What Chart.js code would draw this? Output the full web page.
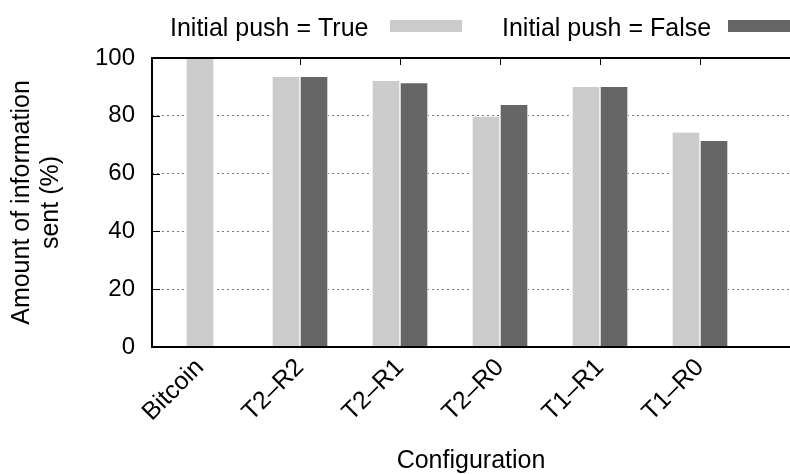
<!DOCTYPE html>
<html>
<head>
<meta charset="utf-8">
<script src="https://cdn.jsdelivr.net/npm/chart.js@4.4.1/dist/chart.umd.min.js"></script>
<style>
    body { margin: 0; background: #fff; }
    #wrap { width: 790px; height: 474px; position: relative; }
</style>
</head>
<body>
<div id="wrap"><canvas id="push-chart"></canvas></div>
<script>
// data
const categories = ['Bitcoin', 'T2–R2', 'T2–R1', 'T2–R0', 'T1–R1', 'T1–R0'];
const pushTrue = [100, 93.4, 92.0, 79.7, 90.0, 74.2];
const pushFalse = [null, 93.4, 91.3, 83.7, 90.0, 71.3];
const yTicks = [0, 20, 40, 60, 80, 100];

const FONT = "'Liberation Sans', Arial, Helvetica, sans-serif";

// gnuplot-like frame and inward ticks
const framePlugin = {
    id: 'frame',
    beforeDatasetsDraw(chart) {
        const ctx = chart.ctx, a = chart.chartArea;
        const xs = chart.scales.x, ys = chart.scales.y;
        ctx.save();
        ctx.strokeStyle = '#000';
        ctx.lineWidth = 1;
        ctx.beginPath();
        categories.forEach((c, i) => {
            const px = Math.round(xs.getPixelForValue(i)) + 0.5;
            ctx.moveTo(px, a.bottom); ctx.lineTo(px, a.bottom - 8);
            ctx.moveTo(px, a.top); ctx.lineTo(px, a.top + 7);
        });
        yTicks.forEach(v => {
            const py = Math.round(ys.getPixelForValue(v)) + 0.5;
            ctx.moveTo(a.left, py); ctx.lineTo(a.left + 8, py);
        });
        ctx.stroke();
        ctx.restore();
    },
    afterDatasetsDraw(chart) {
        const ctx = chart.ctx, a = chart.chartArea;
        ctx.save();
        ctx.strokeStyle = '#000';
        ctx.lineWidth = 2;
        ctx.beginPath();
        ctx.moveTo(chart.width + 2, a.top);
        ctx.lineTo(a.left, a.top);
        ctx.lineTo(a.left, a.bottom);
        ctx.lineTo(chart.width + 2, a.bottom);
        ctx.stroke();
        ctx.restore();
    }
};

// legend with the sample to the right of the text
const legendPlugin = {
    id: 'keyRight',
    afterDraw(chart) {
        const ctx = chart.ctx;
        const spots = [{ tx: 170, bx: 390 }, { tx: 502, bx: 728 }];
        ctx.save();
        ctx.font = '25px ' + FONT;
        ctx.textBaseline = 'alphabetic';
        ctx.textAlign = 'left';
        chart.data.datasets.forEach((ds, i) => {
            ctx.fillStyle = '#000';
            ctx.fillText(ds.label, spots[i].tx, 36);
            ctx.fillStyle = ds.backgroundColor;
            ctx.fillRect(spots[i].bx, 20, 72, 12);
        });
        ctx.restore();
    }
};

const barStyle = {
    barThickness: 28,
    borderColor: '#ffffff',
    borderWidth: { left: 1, right: 1, top: 0, bottom: 0 },
    borderSkipped: false,
    skipNull: true
};

let ctx = document.getElementById('push-chart');
let pushChart = new Chart(ctx, {
    type: 'bar',
    plugins: [framePlugin, legendPlugin],
    data: {
        datasets: [
            Object.assign({
                label: 'Initial push = True',
                data: pushTrue.map((v, i) => ({ x: i, y: v })),
                backgroundColor: '#cccccc'
            }, barStyle),
            Object.assign({
                label: 'Initial push = False',
                data: pushFalse.map((v, i) => ({ x: i, y: v })),
                backgroundColor: '#666666'
            }, barStyle)
        ]
    },
    options: {
        responsive: true,
        maintainAspectRatio: false,
        animation: false,
        layout: { padding: { top: 58, right: 0, left: 0, bottom: 0 } },
        plugins: {
            legend: { display: false },
            tooltip: { enabled: false }
        },
        scales: {
            x: {
                type: 'linear',
                min: -0.48,
                max: 5.9,
                offset: false,
                afterFit: (scale) => {
                    scale.height = 127;
                    scale.paddingLeft = 0;
                    scale.paddingRight = 0;
                },
                grid: { display: false, drawTicks: false },
                border: { display: false },
                ticks: {
                    stepSize: 1,
                    includeBounds: false,
                    autoSkip: false,
                    minRotation: 45,
                    maxRotation: 45,
                    padding: 6,
                    color: '#000',
                    font: { family: FONT, size: 25 },
                    callback: (v) => Number.isInteger(v) && categories[v] ? categories[v] : ''
                },
                title: {
                    display: true,
                    text: 'Configuration',
                    color: '#000',
                    font: { family: FONT, size: 25, lineHeight: 1 },
                    padding: { top: 0, bottom: 0 }
                }
            },
            y: {
                min: 0,
                max: 100,
                afterFit: (scale) => { scale.width = 152; },
                grid: {
                    drawTicks: false,
                    lineWidth: 1,
                    color: (c) => (c.tick && (c.tick.value === 0 || c.tick.value === 100)) ? 'rgba(0,0,0,0)' : '#777'
                },
                border: { display: false, dash: [2, 3] },
                ticks: {
                    stepSize: 20,
                    padding: 17,
                    color: '#000',
                    font: { family: FONT, size: 24 }
                },
                title: {
                    display: true,
                    text: ['Amount of information', 'sent (%)'],
                    color: '#000',
                    font: { family: FONT, size: 25, lineHeight: 1.14 },
                    padding: { top: 8, bottom: 30 }
                }
            }
        }
    }
});
</script>
</body>
</html>
